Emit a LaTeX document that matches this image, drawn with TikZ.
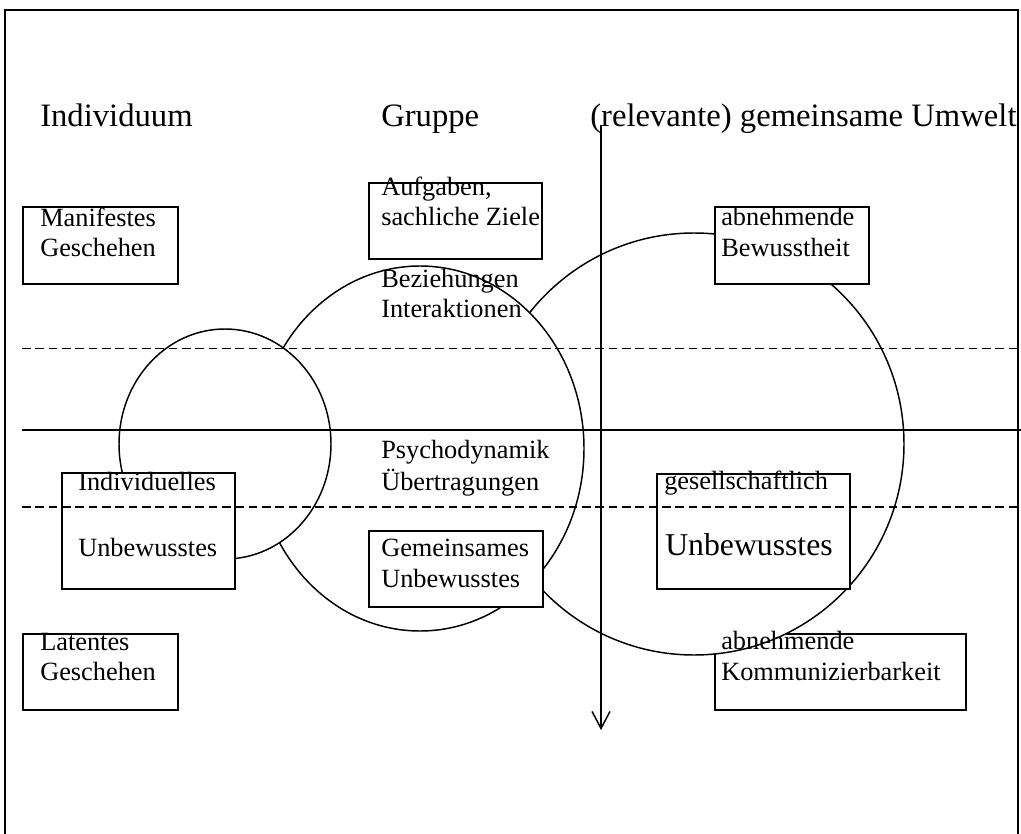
\documentclass[tikz,border=0pt]{standalone}
\usepackage{fontspec}
\setmainfont{Liberation Serif}
\usetikzlibrary{arrows.meta,fit}
\tikzset{
  lbl/.style={anchor=base west, inner sep=0pt, font=\fontsize{19.75}{22.5}\selectfont},
  hdr/.style={anchor=base west, inner sep=0pt, font=\fontsize{24.5}{28}\selectfont},
  biglbl/.style={anchor=base west, inner sep=0pt, font=\fontsize{23.8}{28}\selectfont},
  boxed/.style={draw, fill=white, line width=1.2pt, inner sep=0pt},
  blob/.style={draw, fill=white, line width=1.1pt},
  levelline/.style={line width=1.1pt},
  dashline/.style={line width=1.1pt, dash pattern=on 6.5pt off 3.5pt},
}
\begin{document}
\begin{tikzpicture}[x=0.75pt,y=-0.75pt]
\useasboundingbox (0,0) rectangle (1021,834);
% outer frame
\draw[line width=1.1pt] (5,834) -- (5,10) -- (1018,10) -- (1018,834);
% box behind the large circle
\node[boxed, fit={(715,634) (966,710)}] (kombox) {};
% circles / ellipses
\draw[blob] (694,444) ellipse [x radius=210, y radius=211];
\draw[blob] (420,448.5) ellipse [x radius=164, y radius=182.5];
\draw[blob] (225,444) ellipse [x radius=106, y radius=115];
% boxes
\node[boxed, fit={(23,207) (178,284)}] (manbox) {};
\node[boxed, fit={(369,183) (542,259)}] (aufbox) {};
\node[boxed, fit={(715,207) (869,284)}] (bewbox) {};
\node[boxed, fit={(62,473) (235,589)}] (indbox) {};
\node[boxed, fit={(369,531) (543,607)}] (gembox) {};
\node[boxed, fit={(657,474) (850,589)}] (gesbox) {};
\node[boxed, fit={(23,634) (178,710)}] (latbox) {};
% level lines
\coordinate (d1a) at (22,348.5);
\coordinate (d1b) at (1021,348.5);
\coordinate (sa) at (22,430);
\coordinate (sb) at (1021,430);
\coordinate (d2a) at (22,507);
\coordinate (d2b) at (1021,507);
\draw[dashline] (d1a) -- (d1b);
\draw[levelline] (sa) -- (sb);
\draw[dashline] (d2a) -- (d2b);
% arrow
\coordinate (atop) at (601,125);
\coordinate (abot) at (601,730);
\draw[line width=1.1pt, -{Straight Barb[length=12.75pt,width=13.5pt]}] (atop) -- (abot);
% headers
\node[hdr] (h1) at (40,127) {Individuum};
\node[hdr] (h2) at (381,127) {Gruppe};
\node[hdr] (h3) at (590,127) {(relevante) gemeinsame Umwelt};
% texts
\node[lbl] (t1a) at (40,227) {Manifestes};
\node[lbl] (t1b) at (40,257) {Geschehen};
\node[lbl] (t2a) at (381,196) {Aufgaben,};
\node[lbl] (t2b) at (381,226) {sachliche Ziele};
\node[lbl] (t3a) at (381,288) {Beziehungen};
\node[lbl] (t3b) at (381,318) {Interaktionen};
\node[lbl] (t4a) at (721,226) {abnehmende};
\node[lbl] (t4b) at (721,257) {Bewusstheit};
\node[lbl] (t5a) at (381,458) {Psychodynamik};
\node[lbl] (t5b) at (381,490) {Übertragungen};
\node[lbl] (t6a) at (78,490) {Individuelles};
\node[lbl] (t6b) at (78,556) {Unbewusstes};
\node[lbl] (t7a) at (381,556) {Gemeinsames};
\node[lbl] (t7b) at (381,587) {Unbewusstes};
\node[lbl] (t8a) at (664,489) {gesellschaftlich};
\node[biglbl] (t8b) at (665,555) {Unbewusstes};
\node[lbl] (t9a) at (40,650) {Latentes};
\node[lbl] (t9b) at (40,680) {Geschehen};
\node[lbl] (t10a) at (721,649) {abnehmende};
\node[lbl] (t10b) at (721,680) {Kommunizierbarkeit};
\end{tikzpicture}
\end{document}
